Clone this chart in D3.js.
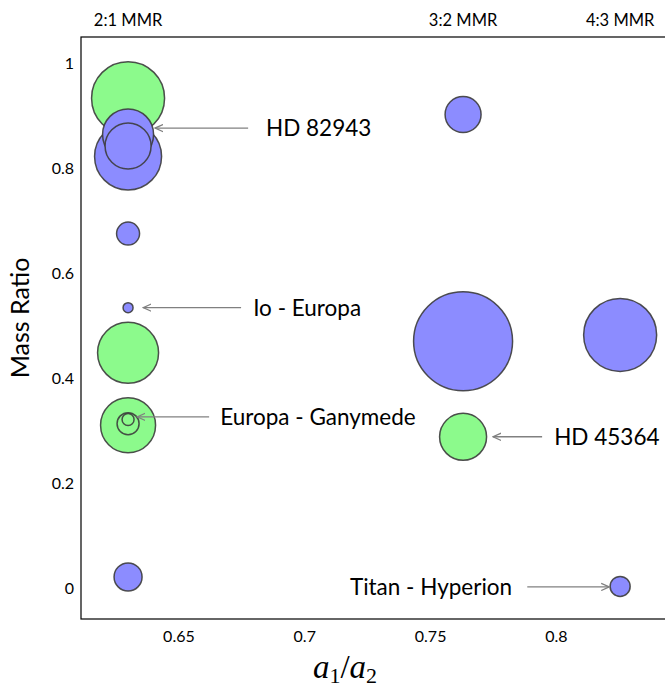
<!DOCTYPE html>
<html>
<head>
<meta charset="utf-8">
<script src="https://cdn.jsdelivr.net/npm/d3@7"></script>
<style>
  html, body { margin: 0; padding: 0; background: #fff; }
  svg { display: block; }
  text { font-family: Lato, "Open Sans", sans-serif; fill: #000; }
</style>
</head>
<body>
<script>
// ---- data ----
const mmrPositions = [0.63, 0.7631, 0.8255];
const mmrLabels = ["2:1 MMR", "3:2 MMR", "4:3 MMR"];

// circles, in drawing order
const circleX    = [0.63, 0.63, 0.63, 0.63, 0.63, 0.63, 0.63, 0.63, 0.63, 0.63, 0.63, 0.7631, 0.7631, 0.7631, 0.8255, 0.8255];
const circleY    = [0.933, 0.822, 0.864, 0.842, 0.675, 0.534, 0.448, 0.310, 0.313, 0.321, 0.021, 0.902, 0.470, 0.288, 0.482, 0.003];
const circleSize = [36.5, 33.5, 25.5, 23, 11.5, 5, 30.5, 27.5, 11, 6, 14, 18, 49.5, 23.5, 36.5, 10];
const circleType = ["g", "b", "b", "b", "b", "b", "g", "g", "g", "g", "b", "b", "b", "g", "b", "b"];

const xTicks = [0.65, 0.7, 0.75, 0.8];
const xTickLabels = ["0.65", "0.7", "0.75", "0.8"];
const yTicks = [0, 0.2, 0.4, 0.6, 0.8, 1];
const yTickLabels = ["0", "0.2", "0.4", "0.6", "0.8", "1"];

// annotations: label, arrow tip (data), arrow tail and label anchor (data)
const annLabels  = ["HD 82943", "Io - Europa", "Europa - Ganymede", "HD 45364", "Titan - Hyperion"];
const annTargetX = [0.6407, 0.6360, 0.6336, 0.7750, 0.8212];
const annTargetY = [0.876, 0.534, 0.326, 0.288, 0.002];
const annTailX   = [0.6777, 0.6749, 0.6622, 0.7945, 0.7886];
const annTextX   = [0.6848, 0.6797, 0.6666, 0.7993, 0.7826];
const annSide    = ["right", "right", "right", "right", "left"];

// ---- layout ----
const W = 665, H = 690;
const mLeft = 81, mTop = 37, mBottom = 619;

const x = d3.scaleLinear().domain([0.6113, 0.8455]).range([mLeft, mLeft + 0.2342 * 2517]);
const y = d3.scaleLinear().domain([-0.0591, 1.0495]).range([mBottom, mTop]);
const r = d3.scaleLinear().domain([0, 50]).range([0, 50]);
const fillColor = { b: "#8c8cff", g: "#8cfa8c" };

const svg = d3.select("body").append("svg").attr("width", W).attr("height", H);

svg.append("defs").append("marker")
  .attr("id", "arr").attr("viewBox", "0 -5 10 10")
  .attr("refX", 9).attr("refY", 0)
  .attr("markerWidth", 9).attr("markerHeight", 9)
  .attr("markerUnits", "userSpaceOnUse")
  .attr("orient", "auto")
  .append("path").attr("d", "M0,-4L9,0L0,4")
  .attr("fill", "none").attr("stroke", "#808080").attr("stroke-width", 1.4);

// frame
svg.append("rect")
  .attr("x", mLeft).attr("y", mTop)
  .attr("width", x.range()[1] - mLeft + 20).attr("height", mBottom - mTop)
  .attr("fill", "none").attr("stroke", "#000").attr("stroke-width", 1.2);

// circles
const idx = d3.range(circleX.length);
svg.append("g").selectAll("circle").data(idx).join("circle")
  .attr("cx", i => x(circleX[i]))
  .attr("cy", i => y(circleY[i]))
  .attr("r", i => r(circleSize[i]))
  .attr("fill", i => fillColor[circleType[i]])
  .attr("stroke", "#3c3c3c")
  .attr("stroke-opacity", 0.9)
  .attr("stroke-width", 1.5);

// x tick labels (no tick marks)
const xAxis = d3.axisBottom(x).tickValues(xTicks).tickFormat((d, i) => xTickLabels[i]).tickSize(0).tickPadding(12);
const gx = svg.append("g").attr("transform", `translate(0,${mBottom})`).call(xAxis);
gx.select(".domain").remove();
gx.selectAll("text").style("font-family", "Lato, sans-serif").style("font-size", "16px").attr("fill", "#000");

const yAxis = d3.axisLeft(y).tickValues(yTicks).tickFormat((d, i) => yTickLabels[i]).tickSize(0).tickPadding(7);
const gy = svg.append("g").attr("transform", `translate(${mLeft},0)`).call(yAxis);
gy.select(".domain").remove();
gy.selectAll("text").style("font-family", "Lato, sans-serif").style("font-size", "16px").attr("fill", "#000");

// MMR labels on top
svg.append("g").selectAll("text").data(mmrPositions).join("text")
  .attr("x", d => x(d)).attr("y", 26)
  .attr("text-anchor", "middle")
  .style("font-size", "16.5px")
  .text((d, i) => mmrLabels[i]);

// annotations
annLabels.forEach((lab, i) => {
  svg.append("line")
    .attr("x1", x(annTailX[i])).attr("y1", y(annTargetY[i]))
    .attr("x2", x(annTargetX[i])).attr("y2", y(annTargetY[i]))
    .attr("stroke", "#808080").attr("stroke-width", 1.4)
    .attr("marker-end", "url(#arr)");
  svg.append("text")
    .attr("x", x(annTextX[i])).attr("y", y(annTargetY[i]))
    .attr("dy", "0.35em")
    .attr("text-anchor", annSide[i] === "right" ? "start" : "end")
    .style("font-size", "22.5px")
    .text(lab);
});

// axis titles
svg.append("text")
  .attr("transform", `translate(29,318) rotate(-90)`)
  .attr("text-anchor", "middle")
  .style("font-size", "25px")
  .text("Mass Ratio");

const t = svg.append("text")
  .attr("x", 345).attr("y", 678)
  .attr("text-anchor", "middle")
  .style("font-family", "'Liberation Serif', 'DejaVu Serif', serif")
  .style("font-size", "33px");
t.append("tspan").style("font-style", "italic").text("a");
t.append("tspan").attr("dy", 5).style("font-size", "22px").text("1");
t.append("tspan").attr("dy", -5).text("/");
t.append("tspan").style("font-style", "italic").text("a");
t.append("tspan").attr("dy", 5).style("font-size", "22px").text("2");
</script>
</body>
</html>
